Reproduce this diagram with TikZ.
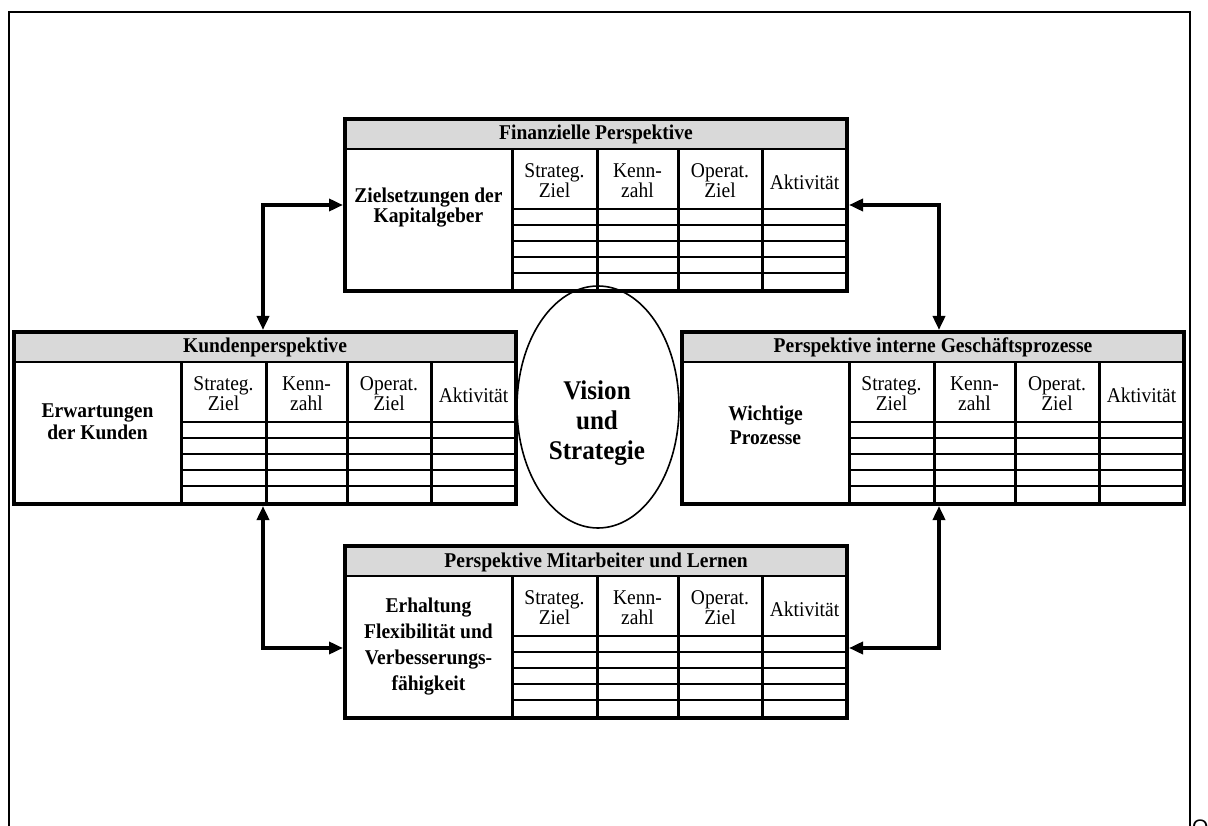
\documentclass[tikz,border=0pt]{standalone}
\usepackage{fontspec}
\setmainfont[FakeStretch=0.93]{Liberation Serif}
\newfontfamily\markfont{Liberation Sans}
\usetikzlibrary{arrows.meta,shapes.geometric}

\definecolor{hdrgray}{RGB}{217,217,217}

\tikzset{
  tableframe/.style={draw, line width=4pt, minimum width=502pt, minimum height=172pt, inner sep=0pt},
  hdrrule/.style={line width=1.8pt},
  colsep/.style={line width=3pt},
  rowrule/.style={line width=2pt},
  titletext/.style={anchor=base, inner sep=0pt, font=\fontsize{21pt}{20pt}\selectfont\bfseries},
  colhead/.style={align=center, inner sep=0pt, font=\fontsize{21pt}{20pt}\selectfont},
  conn/.style={line width=3.5pt, {Triangle[length=14pt,width=12pt]}-{Triangle[length=14pt,width=12pt]}},
}

% #1 name, #2/#3 top-left corner, #4 title, #5 label, #6 label centre y, #7 label line spacing
\newcommand{\bscTable}[7]{%
  \begin{scope}[shift={(#2,#3)}]
    \fill[hdrgray] (0,0) rectangle (502,30);
    \draw[hdrrule] (0,30) -- (502,30);
    \draw[colsep] (167,30) -- (167,172);
    \foreach \cx in {252,333,417} \draw[colsep] (\cx,30) -- (\cx,172);
    \foreach \ry in {90,106,122,138,154} \draw[rowrule] (167,\ry) -- (502,\ry);
    \node[titletext] (#1-title) at (251,21) {#4};
    \node[colhead] (#1-ziel) at (209.5,62) {Strateg.\\Ziel};
    \node[colhead] (#1-kenn) at (292.5,62) {Kenn-\\zahl};
    \node[colhead] (#1-oper) at (375,62) {Operat.\\Ziel};
    \node[colhead] (#1-akt) at (459.5,63) {Aktivität};
    \node[align=center, inner sep=0pt, font=\fontsize{21pt}{#7pt}\selectfont\bfseries] (#1-label) at (83.5,#6) {#5};
    \node[tableframe] (#1) at (251,86) {};
  \end{scope}%
}

\begin{document}
\begin{tikzpicture}[x=1pt, y=-1pt]
  \useasboundingbox (0,0) rectangle (1208,826);

  % open page frame
  \draw[line width=2.2pt] (9,840) -- (9,12) -- (1190,12) -- (1190,840);
  \node[anchor=base west, inner sep=0pt, font=\markfont\fontsize{21pt}{24pt}\selectfont] (mark) at (1192,834) {Q};

  % the four perspectives
  \bscTable{fin}{345}{119}{Finanzielle Perspektive}{Zielsetzungen der\\Kapitalgeber}{89}{20}
  \bscTable{kun}{14}{332}{Kundenperspektive}{Erwartungen\\der Kunden}{90}{22}
  \bscTable{proz}{682}{332}{Perspektive interne Geschäftsprozesse}{Wichtige\\Prozesse}{93}{24}
  \bscTable{lern}{345}{546}{Perspektive Mitarbeiter und Lernen}{Erhaltung\\Flexibilität und\\Verbesserungs-\\fähigkeit}{101}{26}

  % centre: vision and strategy
  \node[draw, ellipse, line width=1.6pt, minimum width=162pt, minimum height=242pt, inner sep=0pt] (vis) at (598,407) {};
  \node[align=center, inner sep=0pt, font=\fontsize{27pt}{30pt}\selectfont\bfseries] (vistext) at (597,423) {Vision\\und\\Strategie};

  % links between the perspectives
  \draw[conn] (fin.west) -| ([xshift=-2pt]kun.north);
  \draw[conn] (fin.east) -| ([xshift=6pt]proz.north);
  \draw[conn] ([xshift=-2pt]kun.south) |- ([yshift=-16pt]lern.west);
  \draw[conn] ([xshift=6pt]proz.south) |- ([yshift=-16pt]lern.east);
\end{tikzpicture}
\end{document}
